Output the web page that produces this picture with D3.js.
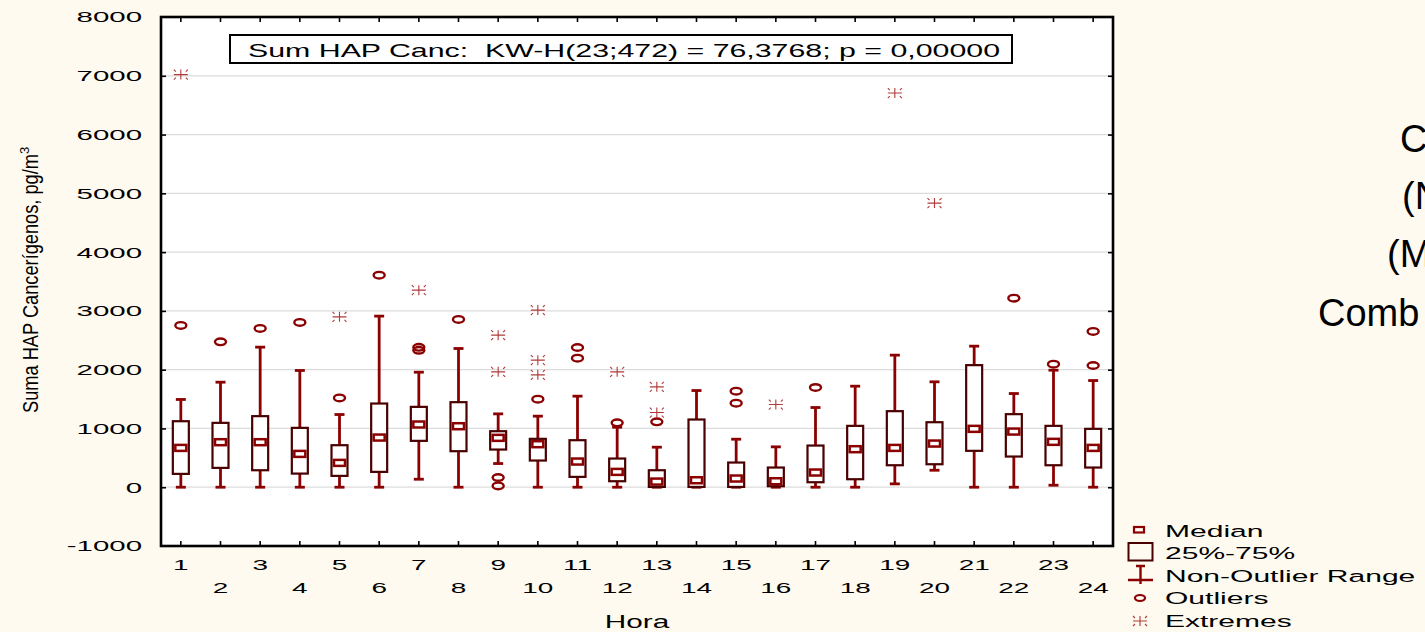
<!DOCTYPE html>
<html>
<head>
<meta charset="utf-8">
<script src="https://cdn.jsdelivr.net/npm/d3@7/dist/d3.min.js"></script>
<style>
  html, body { margin: 0; padding: 0; background: #FEFAF0; overflow: hidden; }
  svg { display: block; }
  text { font-family: "Liberation Sans", Arial, sans-serif; }
</style>
</head>
<body>
<svg id="chart" width="1425" height="632"></svg>
<script>
// ---- data ----
const hours = ["1","2","3","4","5","6","7","8","9","10","11","12","13","14","15","16","17","18","19","20","21","22","23","24"];
const whiskerLow  = [0,0,0,0,0,0,136,0,403,0,0,0,0,0,0,0,0,0,57,289,0,0,34,0];
const q1          = [227,329,289,232,193,261,789,613,641,454,176,102,5,5,5,17,85,136,374,391,619,522,374,335];
const medians     = [669,766,766,567,414,845,1067,1038,840,732,437,261,96,119,148,102,250,647,669,743,993,947,772,669];
const q3          = [1123,1095,1209,1010,715,1424,1367,1447,953,823,800,488,289,1152,420,335,709,1044,1294,1106,2077,1243,1044,993];
const whiskerHigh = [1493,1787,2383,1986,1237,2911,1957,2360,1248,1209,1549,1021,681,1645,817,687,1356,1719,2247,1793,2400,1594,1991,1815];
const outliers = [[2752],[2474],[2701],[2803],[1520],[3608],[2380,2330],[2854],[165,22],[1498],[2377,2196],[1095],[1112],[],[1634,1430],[],[1697],[],[],[],[],[3217],[2094],[2650,2071]];
const extremes = [[7020],[],[],[],[2899],[],[3353],[],[2587,1963],[3013,2162,1912],[],[1963],[1708,1271],[],[],[1407],[],[],[6706],[4834],[],[],[],[]];
const yTicks = [-1000,0,1000,2000,3000,4000,5000,6000,7000,8000];
const gridValues = [0,1000,2000,3000,4000,5000,6000,7000];
const titleText = "Sum HAP Canc:\u00a0 KW-H(23;472) = 76,3768; p = 0,00000";
const yLabel = "Suma HAP Cancerígenos, pg/m";
const xLabel = "Hora";
const legendItems = ["Median","25%-75%","Non-Outlier Range","Outliers","Extremes"];
const sideLines = ["C","(N","(M","Comb"];

// ---- layout ----
const L = 161, R = 1113, T = 17, B = 546;
const cRed = "#8B0000", cBox = "#4A0000", cExt = "#B03A3A";

const svg = d3.select("#chart");
const x = d3.scaleBand().domain(hours).range([L, R]).padding(0);
const y = d3.scaleLinear().domain([-1000, 8000]).range([B, T]);
const cx = h => x(h) + x.bandwidth() / 2;

function stretch(sel, sx) {
  sel.each(function () {
    const t = d3.select(this);
    const xv = +t.attr("x") || 0;
    t.attr("x", xv / sx).attr("transform", `scale(${sx},1)`);
  });
}

// plot background
svg.append("rect").attr("x", L).attr("y", T).attr("width", R - L).attr("height", B - T).attr("fill", "#fff");

// gridlines
svg.append("g").selectAll("line").data(gridValues).join("line")
  .attr("x1", L).attr("x2", R).attr("y1", d => y(d)).attr("y2", d => y(d))
  .attr("stroke", "#dcdcdc").attr("stroke-width", 1.2);

// title box
svg.append("rect").attr("x", 230).attr("y", 35).attr("width", 782).attr("height", 28)
  .attr("fill", "#fff").attr("stroke", "#000").attr("stroke-width", 2);
svg.append("text").attr("x", 248).attr("y", 56.5).attr("font-size", 18.5).attr("fill", "#000")
  .attr("textLength", 752).attr("lengthAdjust", "spacingAndGlyphs").text(titleText);

// boxes
const g = svg.append("g");
hours.forEach((h, i) => {
  const c = cx(h);
  g.append("line").attr("x1", c).attr("x2", c).attr("y1", y(whiskerLow[i])).attr("y2", y(whiskerHigh[i]))
    .attr("stroke", cRed).attr("stroke-width", 2.8);
  [whiskerLow[i], whiskerHigh[i]].forEach(v => {
    g.append("line").attr("x1", c - 5).attr("x2", c + 5).attr("y1", y(v)).attr("y2", y(v))
      .attr("stroke", cRed).attr("stroke-width", 2.8);
  });
  g.append("rect").attr("x", c - 8).attr("width", 16)
    .attr("y", y(q3[i])).attr("height", y(q1[i]) - y(q3[i]))
    .attr("fill", "#fff").attr("stroke", cBox).attr("stroke-width", 2.2);
  g.append("rect").attr("x", c - 5.5).attr("width", 11).attr("y", y(medians[i]) - 3).attr("height", 6)
    .attr("fill", "#fff").attr("stroke", cRed).attr("stroke-width", 2.5);
  outliers[i].forEach(v => {
    g.append("ellipse").attr("cx", c).attr("cy", y(v)).attr("rx", 5.5).attr("ry", 3.3)
      .attr("fill", "none").attr("stroke", cRed).attr("stroke-width", 2.4);
  });
  extremes[i].forEach(v => {
    g.append("path").attr("transform", `translate(${c},${y(v)})`).attr("d", extremePath())
      .attr("fill", "none").attr("stroke", cExt).attr("stroke-width", 1.1);
  });
});

function extremePath() {
  return "M-7,0H7M0,-5V5M-7,-5L-5,-3M7,-5L5,-3M-7,5L-5,3M7,5L5,3";
}

// axes (inward ticks)
const axL = svg.append("g").attr("transform", `translate(${L},0)`)
  .call(d3.axisLeft(y).tickValues(yTicks).tickSize(-5).tickSizeOuter(0).tickPadding(19).tickFormat(d => String(d)));
const axR = svg.append("g").attr("transform", `translate(${R},0)`)
  .call(d3.axisRight(y).tickValues(yTicks).tickSize(-5).tickSizeOuter(0).tickFormat(""));
const axB = svg.append("g").attr("transform", `translate(0,${B})`)
  .call(d3.axisBottom(x).tickSize(-5).tickSizeOuter(0));
const axT = svg.append("g").attr("transform", `translate(0,${T})`)
  .call(d3.axisTop(x).tickSize(-5).tickSizeOuter(0).tickFormat(""));
[axL, axR, axB, axT].forEach(a => {
  a.select(".domain").remove();
  a.selectAll(".tick line").attr("stroke", "#000").attr("stroke-width", 1.6);
});
axL.selectAll(".tick").filter(d => d === 8000 || d === -1000).select("line").remove();
axR.selectAll(".tick").filter(d => d === 8000 || d === -1000).select("line").remove();
axL.selectAll("text").attr("font-size", 15.5).attr("fill", "#000").attr("font-family", '"Liberation Sans", Arial, sans-serif');
stretch(axL.selectAll("text"), 1.9);
axB.selectAll("text").attr("font-size", 15.5).attr("fill", "#000").attr("dy", 0)
  .attr("font-family", '"Liberation Sans", Arial, sans-serif')
  .attr("y", (d, i) => i % 2 === 0 ? 24 : 47);
stretch(axB.selectAll("text"), 1.8);

// frame
svg.append("rect").attr("x", L).attr("y", T).attr("width", R - L).attr("height", B - T)
  .attr("fill", "none").attr("stroke", "#000").attr("stroke-width", 2.6);

// axis titles
const xl = svg.append("text").attr("x", 637).attr("y", 628).attr("font-size", 17.5).attr("text-anchor", "middle")
  .attr("fill", "#000").text(xLabel);
stretch(xl, 1.7);
const yl = svg.append("text").attr("transform", "translate(38,413) rotate(-90)").attr("font-size", 21.5)
  .attr("fill", "#000").attr("font-family", '"Liberation Sans Narrow", "Arial Narrow", "Liberation Sans", Arial, sans-serif');
yl.append("tspan").attr("textLength", 259).attr("lengthAdjust", "spacingAndGlyphs").text(yLabel);
yl.append("tspan").attr("font-size", 13).attr("dy", -9).text("3");

// legend
const lg = svg.append("g");
lg.append("rect").attr("x", 1134).attr("y", 527).attr("width", 10).attr("height", 5.5)
  .attr("fill", "none").attr("stroke", cRed).attr("stroke-width", 2.2);
lg.append("rect").attr("x", 1128.5).attr("y", 543).attr("width", 24).attr("height", 17.5)
  .attr("fill", "none").attr("stroke", cBox).attr("stroke-width", 2);
lg.append("path").attr("d", "M1140.5,565V584M1136,566H1145M1128,580H1153")
  .attr("fill", "none").attr("stroke", cRed).attr("stroke-width", 2.4);
lg.append("ellipse").attr("cx", 1140).attr("cy", 598).attr("rx", 5).attr("ry", 3)
  .attr("fill", "none").attr("stroke", cRed).attr("stroke-width", 2.2);
lg.append("path").attr("transform", "translate(1140,621)").attr("d", extremePath())
  .attr("fill", "none").attr("stroke", cExt).attr("stroke-width", 1.1);
const legY = [536.5, 559, 582, 604.5, 627.5];
const lt = lg.selectAll("text.leg").data(legendItems).join("text").attr("class", "leg")
  .attr("x", 1165).attr("y", (d, i) => legY[i]).attr("font-size", 16.5).attr("fill", "#000").text(d => d);
stretch(lt, 1.82);

// clipped slide text on the right (cut off at the page edge, as in the reference)
const sideX = [1400, 1402, 1387, 1318];
const sideY = [152, 209, 267, 326];
svg.selectAll("text.side").data(sideLines).join("text").attr("class", "side")
  .attr("x", (d, i) => sideX[i]).attr("y", (d, i) => sideY[i])
  .attr("font-family", "Lato, 'Open Sans', sans-serif").attr("font-size", 38).attr("fill", "#000")
  .text(d => d);
</script>
</body>
</html>
